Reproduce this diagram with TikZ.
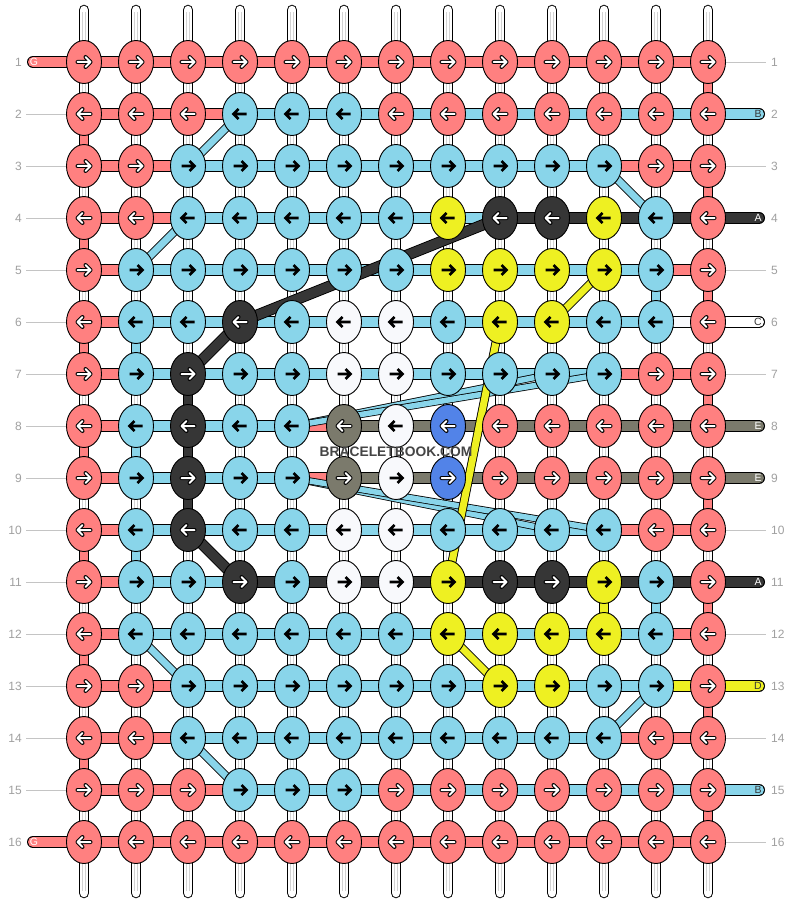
\documentclass[tikz,border=0pt]{standalone}
\usepackage{fontspec}
\setmainfont{Liberation Sans}
\usetikzlibrary{shapes.geometric}
\definecolor{cp}{HTML}{FF8080}
\definecolor{cb}{HTML}{89D5EA}
\definecolor{cy}{HTML}{EEF022}
\definecolor{cd}{HTML}{363636}
\definecolor{cw}{HTML}{F8F9FC}
\definecolor{cg}{HTML}{7B7A6C}
\definecolor{cn}{HTML}{5283E8}
\definecolor{labgray}{HTML}{A0A0A0}
\definecolor{linegray}{HTML}{C4C4C4}
\definecolor{wmgray}{HTML}{454545}
\pgfdeclarelayer{bg}
\pgfsetlayers{bg,main}
\tikzset{
  knot/.style={ellipse, draw=black, line width=0.9pt, minimum width=35pt, minimum height=43pt, inner sep=0pt},
  seg/.style={draw=black, line width=1pt, double=#1, double distance=10pt},
  vseg/.style={draw=black, line width=1pt, double=#1, double distance=8.5pt},
  sdiag/.style={draw=black, line width=0.9pt, double=#1, double distance=7pt},
  tdiag/.style={draw=black, line width=0.8pt, double=#1, double distance=5.5pt},
  fdiag/.style={draw=black, line width=0.9pt, double=#1, double distance=9.5pt},
  arrW/.style={draw=white, line width=2pt, line cap=round, line join=round,
    preaction={draw=black, line width=4pt, line cap=round, line join=round}},
  arrB/.style={draw=black, line width=2.7pt, line cap=butt, line join=miter},
  ap/.style={arrW}, ad/.style={arrW}, ag/.style={arrW}, an/.style={arrW},
  ab/.style={arrB}, ay/.style={arrB}, aw/.style={arrB},
  rownum/.style={text=labgray, font=\fontsize{12}{12}\selectfont, inner sep=0pt},
  threadtag/.style={font=\fontsize{10.5}{10.5}\selectfont, inner sep=0pt},
  guide/.style={draw=linegray, line width=0.8pt},
  stringout/.style={draw=black, line width=1pt, double=white, double distance=8.5pt, line cap=round},
  stringin/.style={draw=gray!35, line width=0.8pt, double=white, double distance=2.4pt},
}
\begin{document}
\begin{tikzpicture}[x=1pt,y=-1pt]
\begin{pgfonlayer}{bg}
\fill[white] (0,0) rectangle (792,904);
\end{pgfonlayer}
\useasboundingbox (0,0) rectangle (792,904);

% knots with arrows
\foreach \r/\lst in {
 1/{p,p,p,p,p,p,p,p,p,p,p,p,p},
 2/{p,p,p,b,b,b,p,p,p,p,p,p,p},
 3/{p,p,b,b,b,b,b,b,b,b,b,p,p},
 4/{p,p,b,b,b,b,b,y,d,d,y,b,p},
 5/{p,b,b,b,b,b,b,y,y,y,y,b,p},
 6/{p,b,b,d,b,w,w,b,y,y,b,b,p},
 7/{p,b,d,b,b,w,w,b,b,b,b,p,p},
 8/{p,b,d,b,b,g,w,n,p,p,p,p,p},
 9/{p,b,d,b,b,g,w,n,p,p,p,p,p},
 10/{p,b,d,b,b,w,w,b,b,b,b,p,p},
 11/{p,b,b,d,b,w,w,y,d,d,y,b,p},
 12/{p,b,b,b,b,b,b,y,y,y,y,b,p},
 13/{p,p,b,b,b,b,b,b,y,y,b,b,p},
 14/{p,p,b,b,b,b,b,b,b,b,b,p,p},
 15/{p,p,p,b,b,b,p,p,p,p,p,p,p},
 16/{p,p,p,p,p,p,p,p,p,p,p,p,p}}{
  \pgfmathtruncatemacro\s{2*isodd(\r)-1}
  \foreach \k [count=\c] in \lst {
    \node[knot, fill=c\k] (k-\r-\c) at ({84+52*(\c-1)},{62+52*(\r-1)}) {};
    \draw[a\k, shift={(k-\r-\c.center)}] (-6.5*\s,0) -- (6.5*\s,0) (1.5*\s,-5) -- (6.5*\s,0) -- (1.5*\s,5);
  }
}

\begin{pgfonlayer}{bg}
% vertical strings
\foreach \c in {1,...,13}{
  \coordinate (top-\c) at ({84+52*(\c-1)},10);
  \coordinate (bot-\c) at ({84+52*(\c-1)},893);
  \coordinate (topi-\c) at ({84+52*(\c-1)},12);
  \coordinate (boti-\c) at ({84+52*(\c-1)},891);
  \draw[stringout] (top-\c) -- (bot-\c);
  \draw[stringin] (topi-\c) -- (boti-\c);
}
% coloured vertical pieces
\foreach \r/\c/\k in {2/1/p,4/1/p,6/1/p,8/1/p,10/1/p,12/1/p,14/1/p,
  1/13/p,3/13/p,5/13/p,7/13/p,9/13/p,11/13/p,13/13/p,15/13/p,
  6/2/b,8/2/b,10/2/b,5/12/b,11/12/b,7/3/d,8/3/d,9/3/d,11/11/y}{
  \pgfmathtruncatemacro\nr{\r+1}
  \draw[vseg=c\k] (k-\r-\c.center) -- (k-\nr-\c.center);
}
% row threads
\foreach \r/\lst in {
 1/{p,p,p,p,p,p,p,p,p,p,p,p},
 2/{p,p,p,b,b,b,b,b,b,b,b,b},
 3/{p,p,b,b,b,b,b,b,b,b,p,p},
 4/{p,p,b,b,b,b,b,b,d,d,d,d},
 5/{p,b,b,b,b,b,b,b,b,b,b,p},
 6/{p,b,b,b,b,b,b,b,b,b,b,w},
 7/{p,b,b,b,b,b,b,b,b,b,p,p},
 8/{p,b,b,b,p,g,g,g,g,g,g,g},
 9/{p,b,b,b,p,g,g,g,g,g,g,g},
 10/{p,b,b,b,b,b,b,b,b,b,p,p},
 11/{p,b,b,d,d,d,d,d,d,d,d,d},
 12/{p,b,b,b,b,b,b,b,b,b,b,p},
 13/{p,p,b,b,b,b,b,b,b,b,b,y},
 14/{p,p,b,b,b,b,b,b,b,b,p,p},
 15/{p,p,p,b,b,b,b,b,b,b,b,b},
 16/{p,p,p,p,p,p,p,p,p,p,p,p}}{
  \foreach \k [count=\c] in \lst {
    \pgfmathtruncatemacro\nx{\c+1}
    \draw[seg=c\k] (k-\r-\c.center) -- (k-\r-\nx.center);
  }
}
% thread ends on the right
\foreach \r/\col in {2/cb,4/cd,6/white,8/cg,9/cg,11/cd,13/cy,15/cb}{
  \coordinate (re-\r) at (759,{62+52*(\r-1)});
  \draw[seg=\col, line cap=round] (k-\r-13.center) -- (re-\r);
}
% thread ends on the left
\foreach \r in {1,16}{
  \coordinate (le-\r) at (33,{62+52*(\r-1)});
  \draw[seg=cp, line cap=round] (le-\r) -- (k-\r-1.center);
}
% diagonal carries
\draw[tdiag=cb] (k-8-5.center) -- (k-7-10.center);
\draw[tdiag=cb] (k-8-5.center) -- (k-7-11.center);
\draw[tdiag=cb] (k-9-5.center) -- (k-10-10.center);
\draw[tdiag=cb] (k-9-5.center) -- (k-10-11.center);
\foreach \a/\b/\k in {2-4/3-3/b,4-3/5-2/b,3-11/4-12/b,12-2/13-3/b,13-12/14-11/b,14-3/15-4/b,5-11/6-10/y,12-8/13-9/y}{
  \draw[sdiag=c\k] (k-\a.center) -- (k-\b.center);
}
\draw[sdiag=cy] (k-6-9.center) -- (k-11-8.center);
\draw[fdiag=cd] (k-4-9.center) -- (k-6-4.center);
\draw[fdiag=cd] (k-6-4.center) -- (k-7-3.center);
\draw[fdiag=cd] (k-10-3.center) -- (k-11-4.center);
\end{pgfonlayer}

% guide lines
\foreach \r in {2,...,15}{
  \coordinate (lg-\r) at (26,{62+52*(\r-1)});
  \draw[guide] (lg-\r) -- (k-\r-1);
}
\foreach \r in {1,3,5,7,10,12,14,16}{
  \coordinate (rg-\r) at (766,{62+52*(\r-1)});
  \draw[guide] (k-\r-13) -- (rg-\r);
}
% row numbers
\foreach \r in {1,...,16}{
  \node[rownum, anchor=east] (ln-\r) at (22,{62+52*(\r-1)}) {\r};
  \node[rownum, anchor=west] (rn-\r) at (771,{62+52*(\r-1)}) {\r};
}
% thread letters
\foreach \r/\lab/\tc in {2/B/cd,4/A/white,6/C/cd,8/E/white,9/E/white,11/A/white,13/D/cd,15/B/cd}{
  \node[threadtag, text=\tc] (rt-\r) at (758,{62+52*(\r-1)}) {\lab};
}
\foreach \r in {1,16}{
  \node[threadtag, text=white] (lt-\r) at (34,{62+52*(\r-1)}) {G};
}
% watermark
\node[text=wmgray, font=\bfseries\fontsize{13.8}{14}\selectfont, inner sep=0pt] (wm) at (396,452) {BRACELETBOOK.COM};
\end{tikzpicture}
\end{document}
